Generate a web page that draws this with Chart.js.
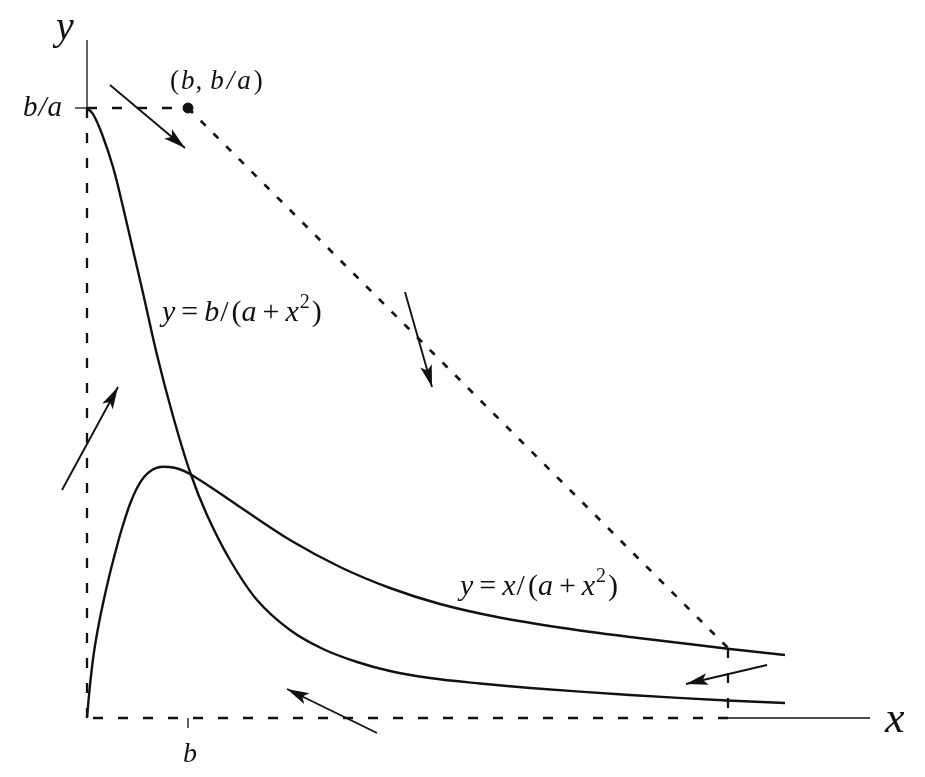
<!DOCTYPE html>
<html>
<head>
<meta charset="utf-8">
<script src="https://cdn.jsdelivr.net/npm/chart.js@4.4.1/dist/chart.umd.min.js"></script>
<style>
html, body { margin: 0; padding: 0; background: #fff; }
#wrap { width: 925px; height: 777px; position: relative; }
</style>
</head>
<body>
<div id="wrap"><canvas id="chart"></canvas></div>
<script>
// values (x and y in the same arbitrary units)
const B = 1.01;
const B_OVER_A = 6.10;
const X_MAX = 7.83;
const Y_MAX = 6.78;

// y = b/(a + x^2)
const bCurveX = [0, 0.06, 0.15, 0.26, 0.36, 0.46, 0.56, 0.70, 0.86, 1.03, 1.20, 1.43, 1.70, 2.03, 2.36, 2.70, 3.03, 3.43, 3.93, 4.43, 5.43, 6.40, 6.98];
const bCurveY = [6.10, 6.04, 5.84, 5.51, 5.11, 4.68, 4.25, 3.63, 3.02, 2.46, 2.03, 1.58, 1.18, 0.88, 0.69, 0.56, 0.47, 0.40, 0.345, 0.30, 0.23, 0.175, 0.15];

// y = x/(a + x^2)
const xCurveX = [0, 0.03, 0.07, 0.12, 0.17, 0.23, 0.30, 0.36, 0.43, 0.50, 0.57, 0.65, 0.73, 0.82, 0.92, 1.03, 1.28, 1.53, 2.03, 2.53, 3.03, 3.53, 4.10, 4.76, 5.43, 6.10, 6.43, 6.98];
const xCurveY = [0, 0.33, 0.66, 0.95, 1.19, 1.45, 1.72, 1.93, 2.14, 2.30, 2.41, 2.48, 2.51, 2.51, 2.49, 2.44, 2.28, 2.11, 1.78, 1.51, 1.30, 1.14, 1.01, 0.90, 0.81, 0.73, 0.69, 0.63];

// corners of the trapping region
const regionX = [0, 0, B, 6.41, 6.41];
const regionY = [0, B_OVER_A, B_OVER_A, 0.70, 0];

// flow arrows (tail -> head)
const arrowTailX = [0.23, 3.18, -0.25, 6.80, 2.90];
const arrowTailY = [6.33, 4.26, 2.28, 0.53, -0.15];
const arrowHeadX = [0.98, 3.45, 0.31, 5.99, 2.00];
const arrowHeadY = [5.70, 3.31, 3.31, 0.34, 0.29];

const INK = '#111';
const SERIF = '"Liberation Serif", "DejaVu Serif", serif';

function pts(xs, ys) {
    return xs.map(function(x, i) { return { x: x, y: ys[i] }; });
}

function seg(i, j, dash, width) {
    return {
        data: [{ x: regionX[i], y: regionY[i] }, { x: regionX[j], y: regionY[j] }],
        borderColor: INK,
        borderWidth: width || 2.3,
        borderDash: dash || [10, 15],
        showLine: true,
        pointRadius: 0,
        clip: false
    };
}

function line(data, width) {
    return {
        data: data,
        borderColor: INK,
        borderWidth: width,
        showLine: true,
        pointRadius: 0,
        clip: false
    };
}

let datasets = [
    Object.assign(line(pts(bCurveX, bCurveY), 2.4), { tension: 0.35 }),
    Object.assign(line(pts(xCurveX, xCurveY), 2.4), { tension: 0.35 }),
    seg(0, 1),
    seg(1, 2),
    seg(2, 3, [7, 11], 2.7),
    seg(3, 4),
    seg(4, 0),
    line([{ x: 0, y: B_OVER_A }, { x: 0, y: Y_MAX }], 1.3),
    line([{ x: regionX[4], y: 0 }, { x: X_MAX, y: 0 }], 1.3),
    line([{ x: -0.12, y: B_OVER_A }, { x: 0, y: B_OVER_A }], 1.3),
    line([{ x: B, y: 0 }, { x: B, y: -0.1 }], 1.3),
    {
        data: [{ x: B, y: B_OVER_A }],
        pointRadius: 5,
        pointBackgroundColor: INK,
        pointBorderColor: INK,
        clip: false
    }
];

arrowTailX.forEach(function(tx, i) {
    let d = line([{ x: tx, y: arrowTailY[i] }, { x: arrowHeadX[i], y: arrowHeadY[i] }], 1.9);
    d.arrow = true;
    datasets.push(d);
});

// arrow heads drawn at the second point of each arrow dataset
const arrowHeads = {
    id: 'arrowHeads',
    afterDatasetsDraw: function(chart) {
        const ctx = chart.ctx;
        chart.data.datasets.forEach(function(ds, i) {
            if (!ds.arrow) return;
            const meta = chart.getDatasetMeta(i);
            const p0 = meta.data[0], p1 = meta.data[1];
            const ang = Math.atan2(p1.y - p0.y, p1.x - p0.x);
            const len = 22, half = 6;
            ctx.save();
            ctx.translate(p1.x, p1.y);
            ctx.rotate(ang);
            ctx.fillStyle = INK;
            ctx.beginPath();
            ctx.moveTo(0, 0);
            ctx.lineTo(-len, -half);
            ctx.lineTo(-len * 0.78, 0);
            ctx.lineTo(-len, half);
            ctx.closePath();
            ctx.fill();
            ctx.restore();
        });
    }
};

function fontFor(p, size) {
    return (p.i ? 'italic ' : '') + (p.sup ? Math.round(size * 0.68) : size) + 'px ' + SERIF;
}

function drawMath(ctx, parts, x, y, size, align) {
    let w = 0;
    parts.forEach(function(p) {
        ctx.font = fontFor(p, size);
        w += ctx.measureText(p.t).width + (p.gap || 0);
    });
    let cx = align === 'right' ? x - w : (align === 'center' ? x - w / 2 : x);
    parts.forEach(function(p) {
        ctx.font = fontFor(p, size);
        ctx.fillText(p.t, cx, y - (p.sup ? size * 0.42 : 0));
        cx += ctx.measureText(p.t).width + (p.gap || 0);
    });
}

const labels = [
    { x: -0.22, y: 6.79, size: 40, align: 'center', parts: [{ t: 'y', i: 1 }] },
    { x: 7.98, y: -0.14, size: 44, align: 'left', parts: [{ t: 'x', i: 1 }] },
    { x: -0.25, y: 6.02, size: 29, align: 'right', parts: [{ t: 'b', i: 1, gap: 1 }, { t: '/', i: 1, gap: 1 }, { t: 'a', i: 1 }] },
    { x: B + 0.02, y: -0.44, size: 28, align: 'center', parts: [{ t: 'b', i: 1 }] },
    { x: 0.83, y: 6.29, size: 27, align: 'left', parts: [
        { t: '(', gap: 2 }, { t: 'b', i: 1, gap: 1 }, { t: ',', gap: 8 }, { t: 'b', i: 1, gap: 3 }, { t: '/', i: 1, gap: 3 }, { t: 'a', i: 1, gap: 3 }, { t: ')' }
    ] },
    { x: 0.75, y: 3.97, size: 30, align: 'left', parts: [
        { t: 'y', i: 1, gap: 6 }, { t: '=', gap: 6 }, { t: 'b', i: 1, gap: 1 }, { t: '/', gap: 3 }, { t: '(' }, { t: 'a', i: 1, gap: 6 }, { t: '+', gap: 6 }, { t: 'x', i: 1, gap: 1 }, { t: '2', sup: 1, gap: 2 }, { t: ')' }
    ] },
    { x: 3.73, y: 1.23, size: 30, align: 'left', parts: [
        { t: 'y', i: 1, gap: 6 }, { t: '=', gap: 6 }, { t: 'x', i: 1, gap: 1 }, { t: '/', gap: 3 }, { t: '(' }, { t: 'a', i: 1, gap: 6 }, { t: '+', gap: 6 }, { t: 'x', i: 1, gap: 1 }, { t: '2', sup: 1, gap: 2 }, { t: ')' }
    ] }
];

const mathLabels = {
    id: 'mathLabels',
    afterDraw: function(chart) {
        const ctx = chart.ctx;
        const sx = chart.scales.x, sy = chart.scales.y;
        ctx.save();
        ctx.fillStyle = INK;
        ctx.textBaseline = 'alphabetic';
        labels.forEach(function(l) {
            drawMath(ctx, l.parts, sx.getPixelForValue(l.x), sy.getPixelForValue(l.y), l.size, l.align);
        });
        ctx.restore();
    }
};

new Chart(document.getElementById('chart'), {
    type: 'scatter',
    data: { datasets: datasets },
    options: {
        responsive: true,
        maintainAspectRatio: false,
        animation: false,
        events: [],
        layout: { padding: { left: 87, top: 40, right: 55, bottom: 59 } },
        scales: {
            x: { type: 'linear', min: 0, max: X_MAX, display: false },
            y: { type: 'linear', min: 0, max: Y_MAX, display: false }
        },
        plugins: {
            legend: { display: false },
            tooltip: { enabled: false }
        }
    },
    plugins: [arrowHeads, mathLabels]
});
</script>
</body>
</html>
